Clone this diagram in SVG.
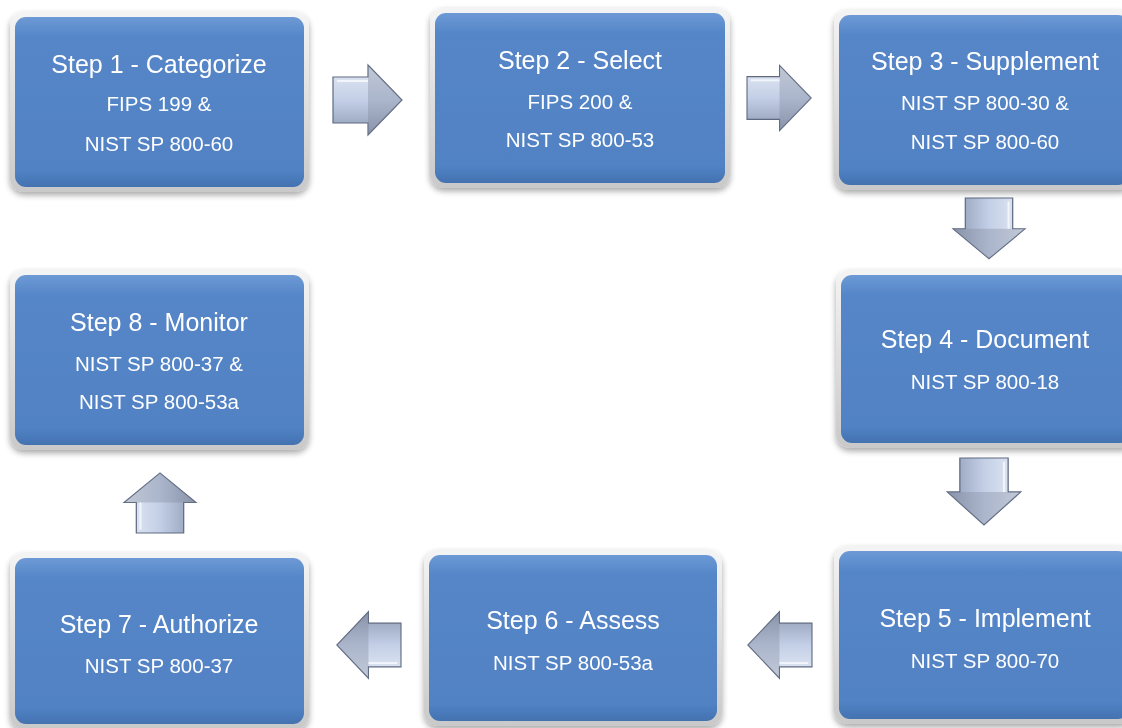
<svg xmlns="http://www.w3.org/2000/svg" width="1122" height="728" viewBox="0 0 1122 728">
<defs>
<linearGradient id="boxg" x1="0" y1="0" x2="0" y2="1">
<stop offset="0" stop-color="#6d9ad6"/>
<stop offset="0.12" stop-color="#5586c8"/>
<stop offset="0.9" stop-color="#5182c4"/>
<stop offset="1" stop-color="#4372b0"/>
</linearGradient>
<linearGradient id="rimg" x1="0" y1="0" x2="0" y2="1">
<stop offset="0" stop-color="#f4f4f4"/>
<stop offset="1" stop-color="#c9c9c9"/>
</linearGradient>
<linearGradient id="arrh" x1="0" y1="0" x2="0" y2="1">
<stop offset="0" stop-color="#e6ecf6"/>
<stop offset="0.5" stop-color="#c3cfe6"/>
<stop offset="1" stop-color="#8e9ab3"/>
</linearGradient>
<filter id="sh" x="-10%" y="-10%" width="120%" height="125%">
<feGaussianBlur in="SourceAlpha" stdDeviation="3"/>
<feOffset dx="0" dy="3"/>
<feComponentTransfer><feFuncA type="linear" slope="0.35"/></feComponentTransfer>
<feMerge><feMergeNode/><feMergeNode in="SourceGraphic"/></feMerge>
</filter>
<g id="rarrow">
<path d="M0 -23 H35 V-35 L69 0 L35 35 V23 H0 Z" fill="url(#arrh)" stroke="#5f6a80" stroke-width="1.2"/>
<path d="M35 -35 L69 0 L35 35 Z" fill="#7d879c" opacity="0.35"/>
<path d="M4 -19 H35" stroke="#ffffff" stroke-width="2" opacity="0.7"/>
</g>
</defs>
<style>
.rim{fill:url(#rimg);}
.box{fill:url(#boxg);}
.t{font-family:"Liberation Sans",Arial,sans-serif;fill:#ffffff;text-anchor:middle;}
.h{font-size:25px;}
.s{font-size:20.5px;}
</style>
<rect width="1122" height="728" fill="#ffffff"/>

<g id="connectors">
<use href="#rarrow" transform="translate(333,100)"/>
<use href="#rarrow" transform="translate(747,98) scale(0.93)"/>
<use href="#rarrow" transform="translate(989,198) rotate(90) scale(0.88,1.03)"/>
<use href="#rarrow" transform="translate(984,458) rotate(90) scale(0.97,1.05)"/>
<use href="#rarrow" transform="translate(812,645) rotate(180) scale(0.93,0.95)"/>
<use href="#rarrow" transform="translate(401,645) rotate(180) scale(0.93,0.95)"/>
<use href="#rarrow" transform="translate(160,533) rotate(-90) scale(0.87,1.03)"/>
</g>

<g id="step1" filter="url(#sh)">
<rect class="rim" x="10" y="12" width="299" height="180" rx="14"/>
<rect class="box" x="15" y="17" width="289" height="170" rx="11"/>
<text class="t h" x="159" y="73">Step 1 - Categorize</text>
<text class="t s" x="159" y="111">FIPS 199 &amp;</text>
<text class="t s" x="159" y="151">NIST SP 800-60</text>
</g>
<g id="step2" filter="url(#sh)">
<rect class="rim" x="430" y="8" width="300" height="180" rx="14"/>
<rect class="box" x="435" y="13" width="290" height="170" rx="11"/>
<text class="t h" x="580" y="69">Step 2 - Select</text>
<text class="t s" x="580" y="109">FIPS 200 &amp;</text>
<text class="t s" x="580" y="147">NIST SP 800-53</text>
</g>
<g id="step3" filter="url(#sh)">
<rect class="rim" x="834" y="10" width="300" height="180" rx="14"/>
<rect class="box" x="839" y="15" width="290" height="170" rx="11"/>
<text class="t h" x="985" y="70">Step 3 - Supplement</text>
<text class="t s" x="985" y="110">NIST SP 800-30 &amp;</text>
<text class="t s" x="985" y="149">NIST SP 800-60</text>
</g>
<g id="step4" filter="url(#sh)">
<rect class="rim" x="836" y="270" width="300" height="178" rx="14"/>
<rect class="box" x="841" y="275" width="290" height="168" rx="11"/>
<text class="t h" x="985" y="348">Step 4 - Document</text>
<text class="t s" x="985" y="389">NIST SP 800-18</text>
</g>
<g id="step5" filter="url(#sh)">
<rect class="rim" x="834" y="546" width="300" height="178" rx="14"/>
<rect class="box" x="839" y="551" width="290" height="168" rx="11"/>
<text class="t h" x="985" y="627">Step 5 - Implement</text>
<text class="t s" x="985" y="668">NIST SP 800-70</text>
</g>
<g id="step6" filter="url(#sh)">
<rect class="rim" x="424" y="550" width="298" height="176" rx="14"/>
<rect class="box" x="429" y="555" width="288" height="166" rx="11"/>
<text class="t h" x="573" y="629">Step 6 - Assess</text>
<text class="t s" x="573" y="670">NIST SP 800-53a</text>
</g>
<g id="step7" filter="url(#sh)">
<rect class="rim" x="10" y="553" width="299" height="176" rx="14"/>
<rect class="box" x="15" y="558" width="289" height="166" rx="11"/>
<text class="t h" x="159" y="633">Step 7 - Authorize</text>
<text class="t s" x="159" y="673">NIST SP 800-37</text>
</g>
<g id="step8" filter="url(#sh)">
<rect class="rim" x="10" y="270" width="299" height="180" rx="14"/>
<rect class="box" x="15" y="275" width="289" height="170" rx="11"/>
<text class="t h" x="159" y="331">Step 8 - Monitor</text>
<text class="t s" x="159" y="371">NIST SP 800-37 &amp;</text>
<text class="t s" x="159" y="409">NIST SP 800-53a</text>
</g>
</svg>
